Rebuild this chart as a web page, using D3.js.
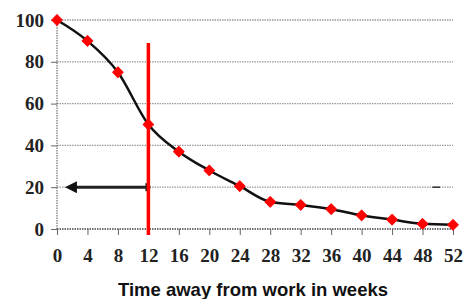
<!DOCTYPE html>
<html>
<head>
<meta charset="utf-8">
<script src="https://cdn.jsdelivr.net/npm/d3@7"></script>
<style>
  body { margin: 0; background: #fff; }
  .tick text { font-family: "Liberation Serif", "Times New Roman", serif; font-size: 19px; font-weight: bold; }
</style>
</head>
<body>
<div class="chart"></div>
<script>
var weeks = [0, 4, 8, 12, 16, 20, 24, 28, 32, 36, 40, 44, 48, 52];
var percent = [100, 90, 75, 50, 37, 28, 20.5, 13, 11.5, 9.5, 6.5, 4.5, 2.5, 2];
var yTicks = [0, 20, 40, 60, 80, 100];
var markerWeek = 12;
var arrowLevel = 20;
var xTitle = "Time away from work in weeks";

var width = 473;
var height = 299;

var x = d3.scaleLinear().domain([0, 52]).range([57, 453]);
var y = d3.scaleLinear().domain([0, 100]).range([229, 20]);

var svg = d3.select(".chart")
    .append("svg")
    .attr("width", width)
    .attr("height", height);

// gridlines
svg.append("g")
    .selectAll("line")
    .data(yTicks)
    .enter().append("line")
    .attr("x1", x(0))
    .attr("x2", x(52))
    .attr("y1", function (d) { return y(d); })
    .attr("y2", function (d) { return y(d); })
    .attr("stroke", function (d) { return d === 0 ? "#444" : "#999"; })
    .attr("stroke-width", 1.3)
    .attr("stroke-dasharray", "1.5,1");

// left axis line
svg.append("line")
    .attr("x1", x(0)).attr("x2", x(0))
    .attr("y1", y(100)).attr("y2", y(0))
    .attr("stroke", "#555")
    .attr("stroke-width", 1)
    .attr("stroke-dasharray", "1.5,1");

var yAxis = d3.axisLeft(y).tickValues(yTicks).tickSize(6).tickPadding(7);
var gy = svg.append("g")
    .attr("transform", "translate(" + x(0) + ",0)")
    .call(yAxis);
gy.select(".domain").remove();

var xAxis = d3.axisBottom(x).tickValues(weeks).tickSize(6).tickPadding(14);
var gx = svg.append("g")
    .attr("transform", "translate(0," + y(0) + ")")
    .call(xAxis);
gx.select(".domain").remove();

svg.selectAll(".tick line").attr("stroke", "#666");
svg.selectAll(".tick text").attr("fill", "#222");

// curve
var line = d3.line()
    .x(function (d, i) { return x(weeks[i]); })
    .y(function (d) { return y(d); })
    .curve(d3.curveMonotoneX);

svg.append("path")
    .datum(percent)
    .attr("d", line)
    .attr("fill", "none")
    .attr("stroke", "#111")
    .attr("stroke-width", 2.5);

// diamond markers (rotated squares)
svg.selectAll(".pt")
    .data(percent)
    .enter().append("path")
    .attr("class", "pt")
    .attr("d", d3.symbol().type(d3.symbolSquare).size(56))
    .attr("transform", function (d, i) { return "translate(" + x(weeks[i]) + "," + y(d) + ") rotate(45)"; })
    .attr("fill", "#ff0000")
    .attr("stroke", "#ff0000")
    .attr("stroke-width", 1)
    .attr("stroke-linejoin", "round");

// arrow
svg.append("defs").append("marker")
    .attr("id", "arr")
    .attr("viewBox", "0 0 10 10")
    .attr("refX", 2).attr("refY", 5)
    .attr("markerWidth", 4).attr("markerHeight", 4)
    .attr("orient", "auto-start-reverse")
    .append("path")
    .attr("d", "M0,0L10,5L0,10z")
    .attr("fill", "#111");

svg.append("line")
    .attr("x1", x(markerWeek) + 2)
    .attr("x2", x(2.3))
    .attr("y1", y(arrowLevel))
    .attr("y2", y(arrowLevel))
    .attr("stroke", "#222")
    .attr("stroke-width", 3)
    .attr("marker-end", "url(#arr)");

svg.append("line")
    .attr("x1", x(markerWeek) - 2).attr("x2", x(markerWeek) - 2)
    .attr("y1", y(arrowLevel) - 4).attr("y2", y(arrowLevel) + 4)
    .attr("stroke", "#222")
    .attr("stroke-width", 2);

// small stray mark on the 20 gridline near the right
svg.append("line")
    .attr("x1", x(49.3)).attr("x2", x(50.3))
    .attr("y1", y(arrowLevel)).attr("y2", y(arrowLevel))
    .attr("stroke", "#333")
    .attr("stroke-width", 1.5);

// red vertical line
svg.append("line")
    .attr("x1", x(markerWeek)).attr("x2", x(markerWeek))
    .attr("y1", 43).attr("y2", 235)
    .attr("stroke", "#ff0000")
    .attr("stroke-width", 3.5);

svg.append("text")
    .attr("x", 253)
    .attr("y", 296)
    .attr("text-anchor", "middle")
    .style("font-family", "'Liberation Sans', Arial, sans-serif")
    .style("font-size", "18.5px")
    .style("font-weight", "bold")
    .attr("fill", "#111")
    .text(xTitle);
</script>
</body>
</html>
